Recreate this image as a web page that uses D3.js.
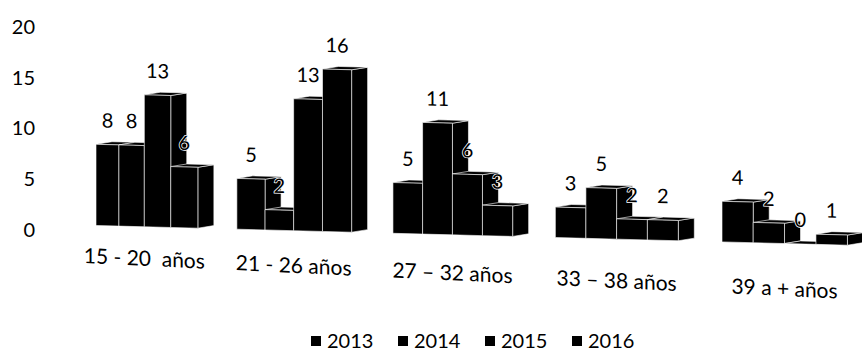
<!DOCTYPE html>
<html>
<head>
<meta charset="utf-8">
<script src="https://cdn.jsdelivr.net/npm/d3@7"></script>
<style>
	body { margin: 0; background: #fff; }
	text { font-family: Lato, "Open Sans", sans-serif; fill: #000; }
</style>
</head>
<body>
<script>
"use strict";

// Data
var categories = ["15 - 20  años", "21 - 26 años", "27 – 32 años", "33 – 38 años", "39 a + años"];
var series = ["2013", "2014", "2015", "2016"];
var v2013 = [8, 5, 5, 3, 4];
var v2014 = [8, 2, 11, 5, 2];
var v2015 = [13, 13, 6, 2, 0];
var v2016 = [6, 16, 3, 2, 1];
var yTicks = [0, 5, 10, 15, 20];

var seriesValues = [v2013, v2014, v2015, v2016];

var W = 862, H = 352;
var barT = 0.185;   // width of one bar, in category units
var depth = 16, lift = 3;   // fake 3D side / top faces

var svg = d3.select('body').append('svg').attr('width', W).attr('height', H);

var y = d3.scaleLinear().domain([0, 20]).range([230, 27]);
// the 3D perspective widens the gaps a little to the right
var x = d3.scalePow().exponent(1.076).domain([0, 4]).range([96, 722]);

// Y axis labels only, no line, no ticks
var yAxis = svg.append('g').attr('transform', 'translate(35, 0)')
	.call(d3.axisLeft(y).tickValues(yTicks).tickSize(0).tickPadding(0));
yAxis.select('.domain').remove();
yAxis.selectAll('text').style('font-size', '20px').attr('fill', '#000');

// the floor of the chart is tilted in the scan
var plot = svg.append('g').attr('transform', 'translate(0, -7) skewY(1.5)');

function poly(pts) {
	return 'M' + pts.map(function(p) { return p[0] + ',' + p[1]; }).join('L') + 'Z';
}

categories.forEach(function(cat, g) {
	var grp = plot.append('g').attr('class', 'group');
	series.forEach(function(s, j) {
		var v = seriesValues[j][g];
		var x0 = x(g + j * barT), x1 = x(g + (j + 1) * barT);
		var top = y(v), base = y(0);
		var bar = grp.append('g').attr('class', 'bar');
		bar.append('path')
			.attr('d', poly([[x1, top], [x1 + depth, top - lift], [x1 + depth, base - lift], [x1, base]]));
		bar.append('path')
			.attr('d', poly([[x0, top], [x0 + depth, top - lift], [x1 + depth, top - lift], [x1, top]]));
		bar.append('rect').attr('x', x0).attr('y', top)
			.attr('width', x1 - x0).attr('height', base - top);
		bar.selectAll('path, rect').attr('fill', '#000')
			.attr('stroke', '#fff').attr('stroke-width', 0.6);
	});
	// value labels, with a white halo where they sit on a bar
	series.forEach(function(s, j) {
		var v = seriesValues[j][g];
		grp.append('text')
			.attr('x', (x(g + j * barT) + x(g + (j + 1) * barT)) / 2)
			.attr('y', y(v) - 17)
			.attr('text-anchor', 'middle')
			.style('font-size', '20px')
			.attr('stroke', '#fff').attr('stroke-width', 1.5)
			.attr('paint-order', 'stroke')
			.text(v);
	});
});

// category labels drift a bit more than the bars
var catLabels = plot.append('g').attr('transform', 'skewY(1.2)');
catLabels.selectAll('text').data(categories).enter().append('text')
	.attr('x', function(d, i) { return x(i + 0.37); })
	.attr('y', y(0) + 36)
	.attr('text-anchor', 'middle')
	.style('font-size', '21px')
	.style('white-space', 'pre')
	.text(function(d) { return d; });

// Legend
var lx = d3.scalePoint().domain(series).range([311, 572]);
var legend = svg.append('g').attr('transform', 'translate(0, 341)');
var item = legend.selectAll('g').data(series).enter().append('g')
	.attr('transform', function(d) { return 'translate(' + lx(d) + ', 0)'; });
item.append('rect').attr('x', 0).attr('y', -5).attr('width', 10).attr('height', 10).attr('fill', '#000');
item.append('text').attr('x', 16).attr('y', 0).attr('dy', '0.35em')
	.style('font-size', '20px').text(function(d) { return d; });
</script>
</body>
</html>
